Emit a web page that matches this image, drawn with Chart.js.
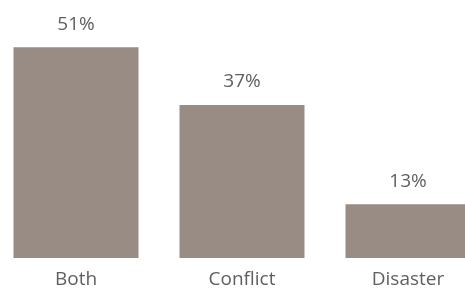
<!DOCTYPE html>
<html>
<head>
<meta charset="utf-8">
<script src="https://cdn.jsdelivr.net/npm/chart.js@4"></script>
<style>
  html, body { margin: 0; padding: 0; background: #fff; overflow: hidden; }
  #wrap { position: absolute; left: -7px; top: 0; width: 498px; height: 289px; }
</style>
</head>
<body>
<div id="wrap"><canvas id="myChart"></canvas></div>
<script>
'use strict';

// data
const categories = ['Both', 'Conflict', 'Disaster'];
const shares = [51, 37, 13];

const ctx = document.getElementById('myChart').getContext('2d');

// value labels above each bar
const valueLabels = {
  id: 'valueLabels',
  afterDatasetsDraw(chart) {
    const c = chart.ctx;
    const meta = chart.getDatasetMeta(0);
    c.save();
    c.font = '19px "Open Sans", sans-serif';
    c.fillStyle = '#5f5f5f';
    c.textAlign = 'center';
    c.textBaseline = 'middle';
    meta.data.forEach((bar, i) => {
      c.fillText(shares[i] + '%', bar.x, bar.y - 23);
    });
    c.restore();
  }
};

new Chart(ctx, {
  type: 'bar',
  data: {
    labels: categories,
    datasets: [
      {
        data: shares,
        backgroundColor: '#998c84',
        categoryPercentage: 1,
        barPercentage: 0.753
      }
    ]
  },
  options: {
    responsive: true,
    maintainAspectRatio: false,
    animation: false,
    layout: { padding: { top: 10, left: 0, right: 0, bottom: 0 } },
    plugins: {
      legend: { display: false },
      tooltip: { enabled: false }
    },
    scales: {
      x: {
        border: { display: false },
        grid: { display: false },
        ticks: {
          color: '#5f5f5f',
          padding: 2,
          font: { family: '"Open Sans", sans-serif', size: 19 }
        },
        afterFit(axis) { axis.height = 31; }
      },
      y: {
        display: false,
        min: 0,
        max: 60
      }
    }
  },
  plugins: [valueLabels]
});
</script>
</body>
</html>
